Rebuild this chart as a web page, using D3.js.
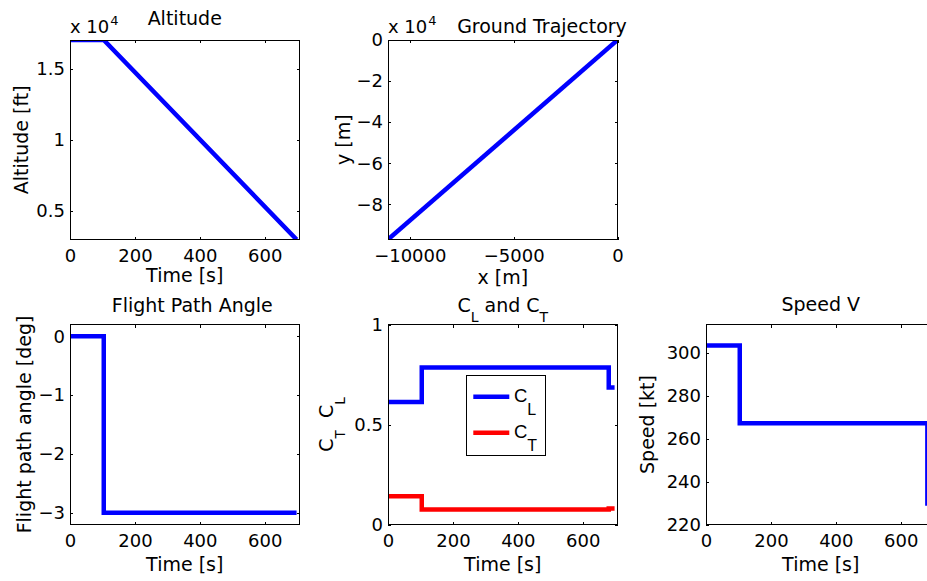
<!DOCTYPE html>
<html>
<head>
<meta charset="utf-8">
<script src="https://cdn.jsdelivr.net/npm/d3@7"></script>
<style>
  body { margin: 0; background: #fff; }
  svg { display: block; }
  text { font-family: "DejaVu Sans", sans-serif; fill: #000; }
</style>
</head>
<body>
<div id="chart"></div>
<script>
// ---- Descent profile data ----
const timeTicks = [0, 200, 400, 600];

const altTime = [0, 104, 698];
const altitudeFt = [17000, 17000, 3000];
const altTicks = [5000, 10000, 15000];

const groundX = [0, -11050];
const groundY = [0, -97100];
const groundXTicks = [-10000, -5000, 0];
const groundYTicks = [0, -20000, -40000, -60000, -80000];

const gammaTime = [0, 104, 698];
const gammaDeg = [0, -3, -3];
const gammaTicks = [0, -1, -2, -3];

const clTime = [0, 104, 680, 698];
const clValues = [0.613, 0.785, 0.685, 0.685];
const ctTime = [0, 104, 680, 698];
const ctValues = [0.1415, 0.075, 0.08, 0.08];
const coefTicks = [0, 0.5, 1];

const speedTime = [0, 104, 682, 698];
const speedKt = [303.4, 267.2, 229.8, 229.8];
const speedTicks = [220, 240, 260, 280, 300];

// ---- Drawing ----
const BLUE = "#0000ff", RED = "#ff0000";
const TICK_FONT = 18, LABEL_FONT = 19;
const minus = v => String(v).replace("-", "\u2212");

const svg = d3.select("#chart").append("svg")
  .attr("width", 927).attr("height", 581);

// Writes a text element built from [string, isSubscript] parts
function richText(sel, parts, size, subSize, shift) {
  parts.forEach(([s, sub], i) => {
    const t = sel.append("tspan").text(s).attr("font-size", sub ? subSize : size);
    if (sub) t.attr("dy", shift);
    else if (i > 0 && parts[i - 1][1]) t.attr("dy", -shift);
  });
  return sel;
}

function makePanel(o) {
  const g = svg.append("g").attr("transform", `translate(${o.left},${o.top})`);
  const x = d3.scaleLinear().domain(o.xDomain).range([0, o.w]);
  const y = d3.scaleLinear().domain(o.yDomain).range([o.h, 0]);

  const clipId = "clip-" + o.key;
  g.append("clipPath").attr("id", clipId)
    .append("rect").attr("width", o.w).attr("height", o.h);

  const styleAxis = a => {
    a.select(".domain").remove();
    a.attr("font-family", null).attr("font-size", null);
    a.selectAll("text").attr("font-size", TICK_FONT).attr("fill", "#000");
    a.selectAll("line").attr("stroke", "#000").attr("shape-rendering", "crispEdges");
  };

  g.append("g").attr("transform", `translate(0,${o.h})`)
    .call(d3.axisBottom(x).tickValues(o.xTicks).tickFormat(o.xFormat)
      .tickSizeInner(-3).tickSizeOuter(0).tickPadding(o.xPad))
    .call(styleAxis);
  g.append("g")
    .call(d3.axisTop(x).tickValues(o.xTicks).tickFormat("")
      .tickSizeInner(-3).tickSizeOuter(0))
    .call(styleAxis);
  g.append("g")
    .call(d3.axisLeft(y).tickValues(o.yTicks).tickFormat(o.yFormat)
      .tickSizeInner(-3).tickSizeOuter(0).tickPadding(5))
    .call(styleAxis);
  g.append("g").attr("transform", `translate(${o.w},0)`)
    .call(d3.axisRight(y).tickValues(o.yTicks).tickFormat("")
      .tickSizeInner(-3).tickSizeOuter(0))
    .call(styleAxis);

  const plot = g.append("g").attr("clip-path", `url(#${clipId})`);
  o.series.forEach(s => {
    const pts = s.xs.map((v, i) => [v, s.ys[i]]);
    plot.append("path")
      .attr("d", d3.line().x(d => x(d[0])).y(d => y(d[1])).curve(s.curve || d3.curveLinear)(pts))
      .attr("fill", "none")
      .attr("stroke", s.color)
      .attr("stroke-width", 4.5)
      .attr("stroke-linejoin", "miter");
  });

  g.append("rect").attr("width", o.w).attr("height", o.h)
    .attr("fill", "none").attr("stroke", "#000").attr("stroke-width", 1)
    .attr("shape-rendering", "crispEdges");

  // title
  const title = g.append("text").attr("x", o.titleX).attr("y", o.titleY)
    .attr("text-anchor", "middle").attr("font-size", LABEL_FONT);
  richText(title, o.title, LABEL_FONT, 14, 10);

  // x label
  g.append("text").attr("x", o.w / 2).attr("y", o.h + o.xLabelY)
    .attr("text-anchor", "middle").attr("font-size", LABEL_FONT).text(o.xLabel);

  // y label
  const yl = g.append("text")
    .attr("transform", `translate(${o.yLabelX},${o.h / 2}) rotate(-90)`)
    .attr("text-anchor", "middle").attr("font-size", LABEL_FONT);
  richText(yl, o.yLabel, LABEL_FONT, 13.5, 12);

  // exponent label
  if (o.exponent) {
    const ex = g.append("text").attr("x", 0).attr("y", -6.7).attr("font-size", TICK_FONT);
    ex.append("tspan").text("x 10");
    ex.append("tspan").text(o.exponent).attr("font-size", 13).attr("dy", -8.5).attr("dx", 1);
  }
  return { g, x, y };
}

const W = 229.5;
const colL = [70, 388, 706];
const rowT = [40, 324.5];
const rowH = [199.5, 200];

// Altitude
makePanel({
  key: "alt", left: colL[0], top: rowT[0], w: W, h: rowH[0],
  xDomain: [0, 707], yDomain: [3000, 17000],
  xTicks: timeTicks, yTicks: altTicks,
  xFormat: minus, yFormat: v => minus(v / 1e4),
  xPad: 9.4, xLabelY: 42.8,
  series: [{ xs: altTime, ys: altitudeFt, color: BLUE }],
  title: [["Altitude", false]], titleX: W / 2, titleY: -15,
  xLabel: "Time [s]", yLabel: [["Altitude [ft]", false]], yLabelX: -42.4,
  exponent: "4"
});

// Ground trajectory
makePanel({
  key: "ground", left: colL[1], top: rowT[0], w: W, h: rowH[0],
  xDomain: [-11050, 0], yDomain: [-97100, 0],
  xTicks: groundXTicks, yTicks: groundYTicks,
  xFormat: minus, yFormat: v => minus(v / 1e4),
  xPad: 9.4, xLabelY: 44.3,
  series: [{ xs: groundX, ys: groundY, color: BLUE }],
  title: [["Ground Trajectory", false]], titleX: 154, titleY: -7,
  xLabel: "x [m]", yLabel: [["y [m]", false]], yLabelX: -38,
  exponent: "4"
});

// Flight path angle
makePanel({
  key: "gamma", left: colL[0], top: rowT[1], w: W, h: rowH[1],
  xDomain: [0, 707], yDomain: [-3.2, 0.2],
  xTicks: timeTicks, yTicks: gammaTicks,
  xFormat: minus, yFormat: minus,
  xPad: 10, xLabelY: 46.5,
  series: [{ xs: gammaTime, ys: gammaDeg, color: BLUE, curve: d3.curveStepAfter }],
  title: [["Flight Path Angle", false]], titleX: W / 2 + 7.5, titleY: -13,
  xLabel: "Time [s]", yLabel: [["Flight path angle [deg]", false]], yLabelX: -39
});

// Lift and thrust coefficients
const coef = makePanel({
  key: "coef", left: colL[1], top: rowT[1], w: W, h: rowH[1],
  xDomain: [0, 707], yDomain: [0, 1],
  xTicks: timeTicks, yTicks: coefTicks,
  xFormat: minus, yFormat: minus,
  xPad: 10, xLabelY: 46.5,
  series: [
    { xs: clTime, ys: clValues, color: BLUE, curve: d3.curveStepAfter },
    { xs: ctTime, ys: ctValues, color: RED, curve: d3.curveStepAfter }
  ],
  title: [["C", false], ["L", true], [" and C", false], ["T", true]], titleX: W / 2, titleY: -13,
  xLabel: "Time [s]",
  yLabel: [["C", false], ["T", true], ["\u00a0\u00a0C", false], ["L", true]], yLabelX: -55.3
});

// Legend
const legendItems = [
  { name: "L", color: BLUE },
  { name: "T", color: RED }
];
const lg = coef.g.append("g").attr("transform", "translate(78.7,51.2)");
lg.append("rect").attr("width", 78.6).attr("height", 79.3)
  .attr("fill", "#fff").attr("stroke", "#000").attr("stroke-width", 1)
  .attr("shape-rendering", "crispEdges");
legendItems.forEach((d, i) => {
  const cy = 21 + i * 36;
  lg.append("line").attr("x1", 6.6).attr("x2", 42.6).attr("y1", cy).attr("y2", cy)
    .attr("stroke", d.color).attr("stroke-width", 4.5);
  const t = lg.append("text").attr("x", 47.3).attr("y", cy + 5.3)
    .style("font-family", "'Liberation Sans', Arial, sans-serif");
  richText(t, [["C", false], [d.name, true]], 18.5, 16, 12.6);
});

// Speed
makePanel({
  key: "speed", left: colL[2], top: rowT[1], w: W, h: rowH[1],
  xDomain: [0, 707], yDomain: [220, 313.2],
  xTicks: timeTicks, yTicks: speedTicks,
  xFormat: minus, yFormat: minus,
  xPad: 10, xLabelY: 46.5,
  series: [{ xs: speedTime, ys: speedKt, color: BLUE, curve: d3.curveStepAfter }],
  title: [["Speed V", false]], titleX: W / 2, titleY: -14,
  xLabel: "Time [s]", yLabel: [["Speed [kt]", false]], yLabelX: -52
});
</script>
</body>
</html>
